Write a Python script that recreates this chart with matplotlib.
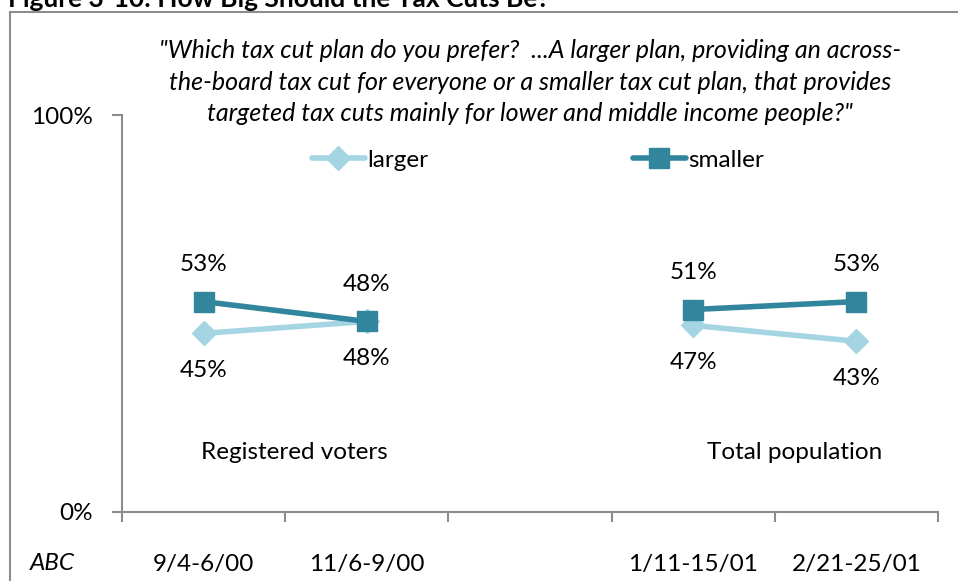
import numpy as np
import matplotlib.pyplot as plt
from matplotlib.patches import Rectangle

plt.rcParams['font.family'] = ['Lato', 'DejaVu Sans']

# poll dates, with an empty slot between the two groups
dates = ['9/4-6/00', '11/6-9/00', '', '1/11-15/01', '2/21-25/01']
larger = [45, 48, np.nan, 47, 43]
smaller = [53, 48, np.nan, 51, 53]

light = '#A5D5E2'
teal = '#31859C'
fs = 17.5

W, H = 958, 581
fig = plt.figure(figsize=(W / 100, H / 100), dpi=100)

# outer frame and clipped heading
fig.patches.append(Rectangle((10 / W, -0.05), 1.0, 1 - 12 / H + 0.05,
                             transform=fig.transFigure, fill=False,
                             edgecolor='#8c8c8c', linewidth=1.5))
fig.text(8 / W, 1 + 1 / H, 'Figure 3-10: How Big Should the Tax Cuts Be?',
         fontsize=19, fontweight='bold', va='center', ha='left')

ax = fig.add_axes([122 / W, 1 - 512 / H, (938 - 122) / W, (512 - 115) / H])
x = np.arange(len(dates))
ax.plot(x, larger, color=light, lw=4, marker='D', ms=12, label='larger',
        solid_capstyle='round')
ax.plot(x, smaller, color=teal, lw=4, marker='s', ms=14, label='smaller',
        solid_capstyle='round')

for xi, (a, b) in enumerate(zip(larger, smaller)):
    if np.isnan(a):
        continue
    ax.annotate(f'{b:.0f}%', (xi, b), xytext=(0, 19),
                textcoords='offset points', ha='center', va='bottom', fontsize=fs)
    ax.annotate(f'{a:.0f}%', (xi, a), xytext=(0, -19),
                textcoords='offset points', ha='center', va='top', fontsize=fs)

ax.set_xlim(-0.5, len(dates) - 0.5)
ax.set_ylim(0, 100)
ax.set_yticks([0, 100])
ax.set_yticklabels(['0%', '100%'], fontsize=fs)
ax.set_xticks(np.arange(-0.5, len(dates)), minor=False)
ax.set_xticklabels([])
ax.set_xticks(x, minor=True)
ax.set_xticklabels(dates, minor=True, fontsize=fs)
ax.tick_params(axis='x', which='major', direction='out', length=7, color='#8c8c8c', width=1.5)
ax.tick_params(axis='x', which='minor', length=0, pad=30)
ax.tick_params(axis='y', direction='out', length=7, color='#8c8c8c', width=1.5, pad=14)
for s in ['top', 'right']:
    ax.spines[s].set_visible(False)
for s in ['left', 'bottom']:
    ax.spines[s].set_color('#8c8c8c')
    ax.spines[s].set_linewidth(1.5)

# group captions under each pair of polls
ax.text(0.555, 15, 'Registered voters', ha='center', va='center', fontsize=fs)
ax.text(3.62, 15, 'Total population', ha='center', va='center', fontsize=fs)

fig.legend(loc='center', bbox_to_anchor=(538 / W, 1 - 160 / H), ncol=2,
           frameon=False, fontsize=fs, columnspacing=8.4, handlelength=2.2,
           handletextpad=0.1)

fig.text(530 / W, 1 - 82 / H,
         '"Which tax cut plan do you prefer?  ...A larger plan, providing an across-\n'
         'the-board tax cut for everyone or a smaller tax cut plan, that provides\n'
         'targeted tax cuts mainly for lower and middle income people?"',
         ha='center', va='center', fontsize=18, style='italic', linespacing=1.45)

fig.text(30 / W, 1 - 563 / H, 'ABC', fontsize=fs, style='italic', va='center')

fig.savefig('out.png', dpi=100)
